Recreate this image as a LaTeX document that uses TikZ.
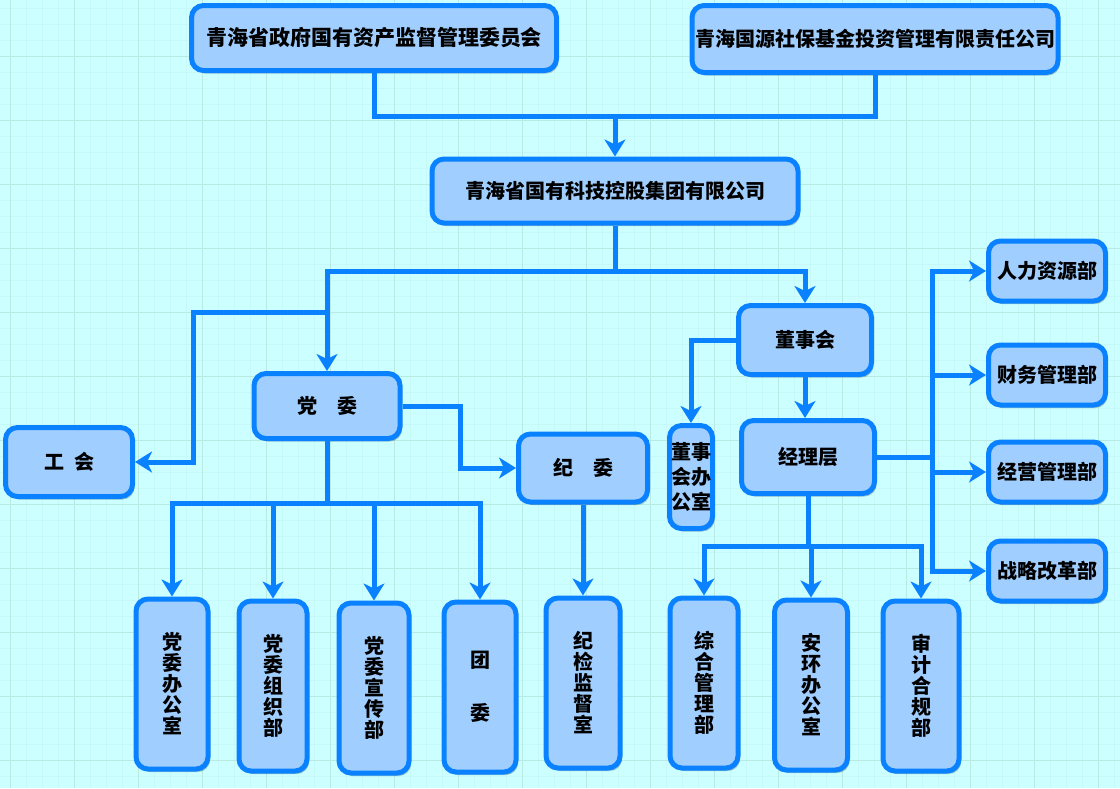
\documentclass[tikz,border=0pt]{standalone}
\usepackage{fontspec}
\newfontfamily\cjk{Noto Sans CJK SC}
\usetikzlibrary{arrows.meta,shadows}
\definecolor{bgc}{RGB}{204,255,255}
\definecolor{minorc}{RGB}{198,248,248}
\definecolor{majorc}{RGB}{184,234,226}
\definecolor{boxfill}{RGB}{160,206,255}
\definecolor{boxline}{RGB}{10,130,255}
\tikzset{
  box/.style={draw=boxline,fill=boxfill,line width=5pt,rounded corners=12pt,inner sep=0pt,
    align=center,text=black,font={\cjk\bfseries\fontsize{20}{21}\selectfont},
    drop shadow={shadow xshift=2pt,shadow yshift=-3pt,opacity=0.22,fill=black}},
  bigtxt/.style={font={\cjk\bfseries\fontsize{21}{23}\selectfont}},
  vbox/.style={box,minimum width=72pt,minimum height=170pt},
  rbox/.style={box,minimum width=117pt,minimum height=60pt},
  conn/.style={draw=boxline,line width=5pt},
  arr/.style={conn,-{Stealth[length=17pt,width=21pt,inset=5pt]}},
}
\begin{document}
\begin{tikzpicture}[x=1pt,y=-1pt]
\useasboundingbox (0,0) rectangle (1120,788);
\fill[bgc] (0,0) rectangle (1120,788);
\foreach \x in {10,26,...,1120} \draw[minorc,line width=0.6pt] (\x,0) -- (\x,788);
\foreach \y in {8,24,...,788} \draw[minorc,line width=0.6pt] (0,\y) -- (1120,\y);
\foreach \x in {10,74,...,1120} \draw[majorc,line width=0.8pt] (\x,0) -- (\x,788);
\foreach \y in {56,120,...,788} \draw[majorc,line width=0.8pt] (0,\y) -- (1120,\y);

% nodes
\node[box,bigtxt,minimum width=365pt,minimum height=65pt] (gz) at (374,38) {青海省政府国有资产监督管理委员会};
\node[box,minimum width=366pt,minimum height=67pt] (gy) at (875,39) {青海国源社保基金投资管理有限责任公司};
\node[box,minimum width=366pt,minimum height=64pt] (kj) at (615,191) {青海省国有科技控股集团有限公司};
\node[box,minimum width=133pt,minimum height=69pt] (dsh) at (805,340) {董事会};
\node[box,minimum width=146pt,minimum height=65pt] (dw) at (327,406) {党\hspace{1em}委};
\node[box,minimum width=127pt,minimum height=69pt] (gh) at (69,462) {工\hspace{0.5em}会};
\node[box,minimum width=129pt,minimum height=68pt] (jw) at (583,468) {纪\hspace{1em}委};
\node[box,minimum width=43pt,minimum height=103pt,font={\cjk\bfseries\fontsize{20}{25}\selectfont}] (dsb) at (691,477) {董事\\会办\\公室};
\node[box,minimum width=133pt,minimum height=73pt] (jl) at (808,457) {经理层};
\node[rbox] (rl) at (1047,271) {人力资源部};
\node[rbox] (cw) at (1047,375) {财务管理部};
\node[rbox] (jy) at (1047,472) {经营管理部};
\node[rbox] (zl) at (1047,571) {战略改革部};
\node[vbox] (dbg) at (172,684) {党\\委\\办\\公\\室};
\node[vbox,minimum width=68pt] (dzz) at (273,686) {党\\委\\组\\织\\部};
\node[vbox,minimum width=70pt] (dxc) at (374,688) {党\\委\\宣\\传\\部};
\node[vbox] (tw) at (480,687) {团\\[32pt]委};
\node[vbox,minimum width=74pt] (jjs) at (583,683) {纪\\检\\监\\督\\室};
\node[vbox,minimum width=68pt] (zh) at (704,683) {综\\合\\管\\理\\部};
\node[vbox,minimum width=73pt] (ah) at (811,685) {安\\环\\办\\公\\室};
\node[vbox,minimum width=76pt] (sj) at (921,686) {审\\计\\合\\规\\部};

% junction coordinates
\coordinate (j1) at (615,116);
\coordinate (j2) at (615,271);
\coordinate (j3) at (327,312);
\coordinate (b1) at (193,312);
\coordinate (j4) at (327,503);
\coordinate (j5) at (932,457);
\coordinate (j6) at (808,546);

% connectors
\draw[conn] (gz.south) |- (j1) -| (gy.south);
\draw[arr] (j1) -- (kj.north);
\draw[conn] (kj.south) -- (j2);
\draw[arr] (j2) -| (dsh.north);
\draw[arr] (j2) -| (dw.north);
\draw[arr] (j3) -- (b1) |- (gh.east);
\draw[arr] (dw.east) -- ++(58,0) |- (jw.west);
\draw[conn] (dw.south) -- (j4);
\draw[arr] (j4) -| (dbg.north);
\draw[arr] (j4) -| (dzz.north);
\draw[arr] (j4) -| (dxc.north);
\draw[arr] (j4) -| (tw.north);
\draw[arr] (jw.south) -- (jjs.north);
\draw[arr] (dsh.west) -| (dsb.north);
\draw[arr] (dsh.south) -- (dsh.south |- jl.north);
\draw[conn] (jl.east) -- (j5);
\draw[arr] (j5) |- (rl.west);
\draw[arr] (j5) |- (cw.west);
\draw[arr] (j5) |- (jy.west);
\draw[arr] (j5) |- (zl.west);
\draw[conn] (jl.south) -- (j6);
\draw[arr] (j6) -| (zh.north);
\draw[arr] (j6) -| (ah.north);
\draw[arr] (j6) -| (sj.north);
\end{tikzpicture}
\end{document}
